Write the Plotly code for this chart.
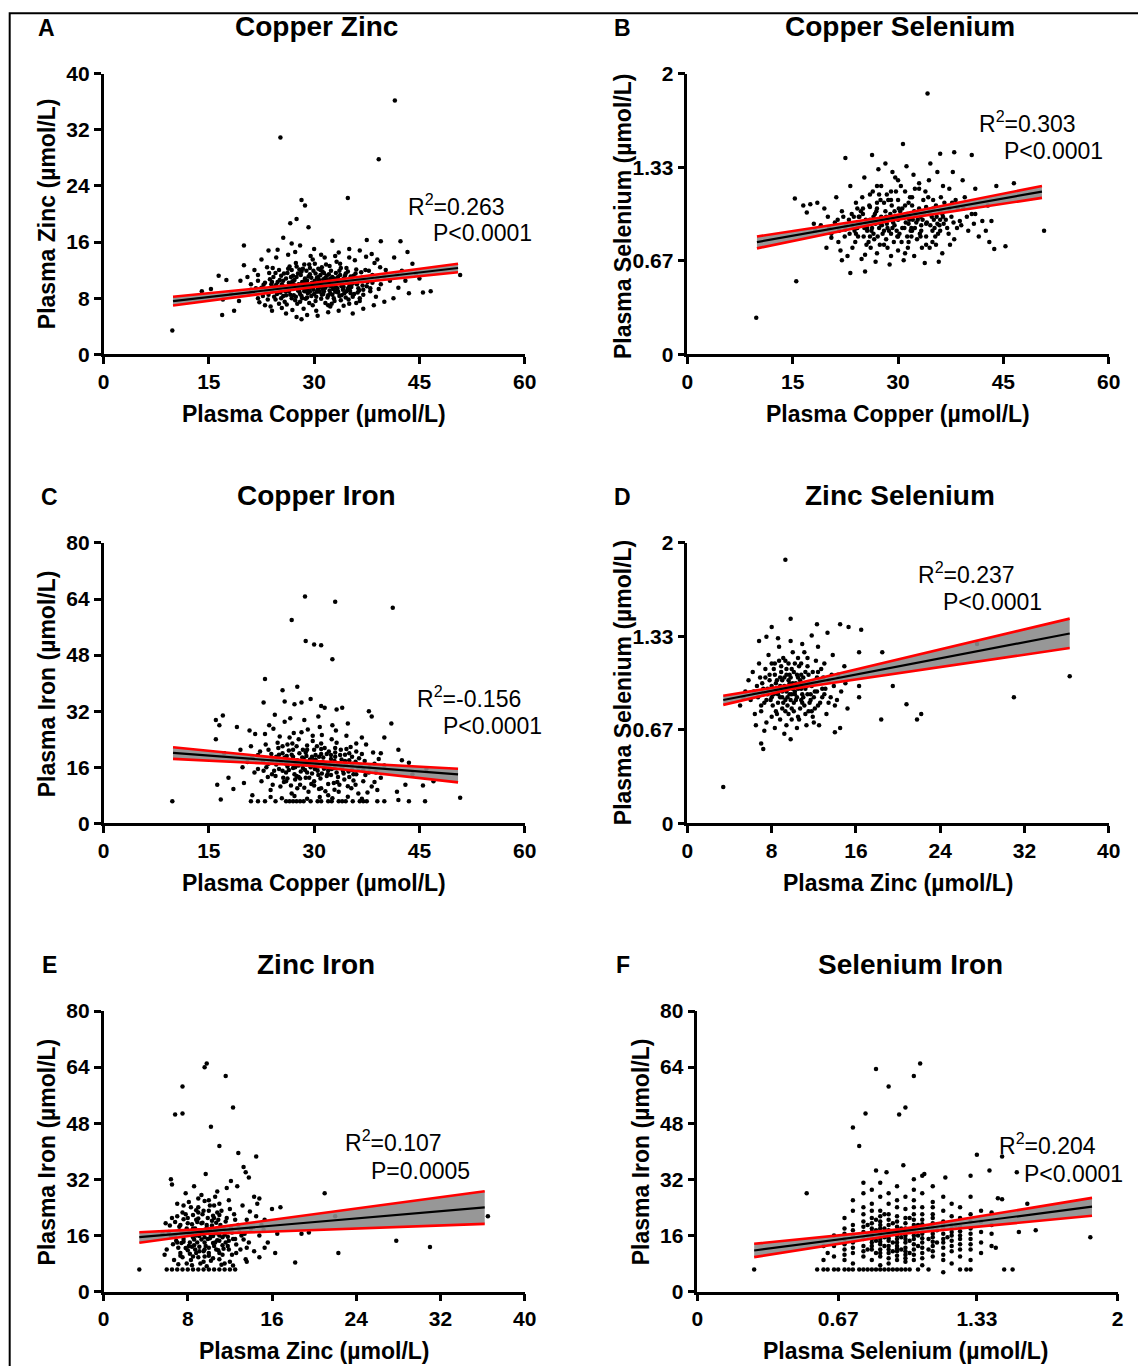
import plotly.graph_objects as go

W, H = 1138, 1366

# ---------------- DATA ----------------
# Panel A: Plasma Copper (x) vs Plasma Zinc (y)
a_pts = [(9.8,3.4),(25.2,30.9),(39.2,27.8),(41.5,36.2),(28.2,22.0),(28.7,21.2),(34.8,22.3),(27.5,19.3),(26.6,18.7),(29.2,18.1),(25.6,16.6),(20.0,15.5),(32.6,16.2),(37.5,16.3),(39.5,16.1),(42.3,16.1),(43.3,14.6),(41.4,13.8),(44.0,12.9),(45.5,8.8),(46.6,9.0),(41.3,8.0),(43.5,8.7),(50.8,11.3),(14.0,9.0),(16.4,11.2),(16.9,5.6),(18.6,6.2),(20.0,12.7),(15.3,9.3),(17.5,10.6),(18.2,8.7),(19.3,7.6),(17.0,7.8),(39.0,13.5),(40.2,12.0),(38.2,14.3),(36.5,14.8),(35.0,15.0),(33.5,14.5),(31.0,14.2),(30.0,15.0),(28.0,15.5),(26.8,15.8),(24.8,14.9),(23.5,14.8),(22.5,13.5),(21.5,12.0),(20.5,11.0),(19.5,10.5),(21.0,9.2),(22.0,8.0),(23.0,7.0),(24.0,6.2),(26.0,5.8),(27.5,5.3),(28.2,5.0),(29.0,5.6),(30.5,5.5),(32.0,6.0),(33.5,6.2),(35.5,5.8),(37.0,6.5),(38.5,7.0),(40.0,7.5),(42.0,9.5),(43.0,10.5),(44.5,11.5),(45.0,10.8),(39.5,10.0),(38.0,9.0),(36.5,8.0),(35.0,7.2),
 (22.5,9.5),(23.0,10.2),(23.5,8.5),(24.0,9.0),(24.2,11.0),(24.5,7.8),(24.8,10.3),(25.0,12.0),(25.2,8.8),(25.5,9.8),(25.8,7.5),(26.0,10.8),(26.2,9.2),(26.5,12.5),(26.8,8.0),(27.0,11.2),(27.2,9.6),(27.4,13.0),(27.6,7.2),(27.8,10.0),(28.0,8.6),(28.2,11.8),(28.4,9.4),(28.6,12.8),(28.8,7.9),(29.0,10.5),(29.2,9.0),(29.4,11.4),(29.6,8.3),(29.8,13.5),(30.0,9.8),(30.2,7.6),(30.4,10.9),(30.6,12.2),(30.8,8.9),(31.0,10.2),(31.2,9.3),(31.4,11.6),(31.6,7.3),(31.8,10.6),(32.0,8.4),(32.2,12.6),(32.4,9.7),(32.6,11.0),(32.8,8.0),(33.0,10.0),(33.2,13.2),(33.4,9.0),(33.6,11.9),(33.8,7.7),(34.0,10.4),(34.3,8.7),(34.6,12.3),(34.9,9.5),(35.2,11.1),(35.5,8.2),(35.8,13.4),(36.1,10.0),(36.4,9.1),(36.7,11.7),(37.0,8.5),(37.3,12.0),(37.6,10.3),(38.0,9.4),(38.3,11.3),(38.6,13.0),(39.0,10.8),(39.4,12.4),(40.0,11.1),(40.8,10.5),(41.8,11.4),(42.5,11.9),
 (21.0,10.0),(21.5,8.8),(22.0,11.3),(22.2,7.4),(23.3,12.4),(23.8,6.8),(24.6,13.8),(25.4,6.6),(26.3,14.2),(26.9,6.3),(27.3,14.6),(28.5,6.5),(29.5,14.0),(30.3,6.2),(31.5,13.8),(32.3,6.8),(33.0,14.0),(34.2,6.9),(35.0,13.8),(36.0,7.3),(37.4,13.9),(38.8,8.2),(22.8,9.9),(25.1,10.6),(26.7,9.9),(28.9,9.3),(30.9,11.3),(32.9,10.8),(34.7,10.2),(36.6,10.5),(24.3,8.2),(25.7,11.5),(27.1,8.4),(28.3,10.3),(29.3,7.3),(30.1,12.9),(31.3,8.6),(32.5,7.2),(33.7,12.9),(35.3,9.6),(36.9,9.8),(37.8,11.9),(26.1,7.1),(27.9,12.1),(29.9,11.9),(31.9,9.9),(33.9,8.4),(35.9,11.5),(23.6,11.6),(24.9,9.4),(26.4,10.2),(27.7,9.1),(29.1,8.7),(30.7,9.5),(32.1,11.4),(33.3,9.4),(34.5,11.5),(36.2,8.8),
 (23.1,9.1),(23.7,10.7),(24.4,9.6),(24.7,8.6),(25.3,11.2),(25.9,9.0),(26.2,11.6),(26.6,8.5),(26.9,10.4),(27.3,7.7),(27.5,11.0),(27.9,8.9),(28.1,9.9),(28.4,12.2),(28.7,10.8),(29.0,8.1),(29.2,11.1),(29.5,9.5),(29.7,10.2),(30.0,8.6),(30.2,11.5),(30.5,9.2),(30.7,10.6),(31.0,7.9),(31.1,12.4),(31.4,9.0),(31.6,10.9),(31.9,8.1),(32.1,10.3),(32.4,11.9),(32.7,9.3),(32.9,7.6),(33.2,10.6),(33.4,8.8),(33.7,11.3),(33.9,9.7),(34.2,10.8),(34.5,8.1),(34.8,11.8),(35.1,9.1),(35.4,10.5),(35.7,8.6),(36.0,12.1),(36.3,9.4),(22.7,8.3),(23.9,10.0),(25.6,8.3),(26.8,12.0),(27.0,9.3),(28.0,7.5),(28.6,9.0),(29.4,12.3),(30.3,8.2),(31.2,11.8),(32.2,9.1),(33.1,11.6),(34.1,9.2),(35.0,10.0),(24.1,12.3),(25.0,7.2),(26.0,9.6),(27.2,10.6),(28.2,8.3),(29.0,9.7),(29.8,7.0),(30.6,10.0),(31.5,10.4),(32.3,8.7),(33.5,10.2),(34.6,9.0),(35.6,11.2),(36.8,10.9),(37.5,9.7),(38.3,10.2),(26.5,9.5),(27.7,11.5),(28.9,10.1),(30.9,12.0),(32.0,7.0),(33.0,8.9),(34.9,7.8),(23.4,7.8),(24.5,11.6),(25.4,10.0),(22.0,10.5),(21.7,9.4),(20.8,8.6),(37.1,10.7),(36.5,7.6),(39.2,9.3),
 (24.6,9.9),(25.1,9.3),(25.6,10.5),(26.0,8.4),(26.4,9.0),(26.7,11.0),(27.1,10.0),(27.4,8.2),(27.8,9.6),(28.1,11.3),(28.3,8.0),(28.6,10.4),(28.9,11.9),(29.1,9.6),(29.4,8.9),(29.6,10.9),(29.9,9.2),(30.1,10.5),(30.4,8.9),(30.6,11.0),(30.9,9.9),(31.1,8.5),(31.3,10.7),(31.6,9.5),(31.8,11.2),(32.0,9.8),(32.3,10.8),(32.6,8.5),(32.8,9.9),(33.1,9.5),(33.4,11.0),(33.6,8.3),(33.9,10.3),(34.2,9.6),(34.4,11.2),(34.8,9.3),(35.2,8.7),(35.5,10.1),(25.3,8.0),(26.3,12.2),(27.5,12.5),(29.3,12.8),(31.7,12.8),(33.8,12.3),(24.0,10.3),(23.2,8.9),(36.3,10.8),(37.0,9.2)]
a_fit_x = [9.9, 30.0, 50.5]
a_fit_y = [7.57, 9.91, 12.3]
a_ci_lo = [6.95, 9.6, 11.7]
a_ci_hi = [8.2, 10.2, 12.9]

# Panel B: Plasma Copper (x) vs Plasma Selenium (y)
b_pts = [(9.8,0.26),(15.5,0.52),(34.2,1.86),(50.8,0.88),(45.3,0.77),(43.7,0.75),(30.7,1.50),(15.3,1.11),(16.5,1.06),(17.5,1.07),(23.2,0.58),(25.3,0.59),(22.0,0.67),(17.0,1.01),(26.3,1.42),(22.5,1.40),(40.5,1.42),(36.0,1.43),(38.0,1.44),(46.5,1.22),(43.3,0.95),(42.5,0.88),(41.0,1.0),(20.5,0.83),(18.0,0.93),
 (19.0,0.92),(20.0,0.98),(20.5,0.86),(21.0,0.94),(21.5,0.80),(22.0,1.02),(22.5,0.89),(23.0,0.96),(23.5,0.76),(24.0,1.08),(24.3,0.84),(24.6,0.93),(25.0,1.00),(25.3,0.71),(25.6,0.88),(26.0,1.14),(26.3,0.95),(26.6,0.82),(27.0,1.04),(27.3,0.90),(27.6,1.20),(28.0,0.78),(28.3,0.98),(28.6,1.10),(29.0,0.86),(29.3,0.94),(29.6,1.26),(30.0,0.74),(30.3,1.02),(30.6,0.90),(31.0,1.16),(31.3,0.84),(31.6,0.98),(32.0,1.06),(32.3,0.70),(32.6,0.94),(33.0,1.22),(33.3,0.88),(33.6,1.00),(34.0,0.78),(34.3,1.12),(34.6,0.92),(35.0,1.04),(35.3,0.84),(35.6,1.30),(36.0,0.96),(36.3,0.72),(36.6,1.08),(37.0,0.90),(37.3,1.18),(37.6,0.98),(38.0,0.82),(38.5,1.04),(39.0,0.92),(39.5,1.12),(40.0,0.88),(40.5,1.00),(41.0,1.18),(42.0,0.95),(44.0,1.20),
 (22.8,0.70),(24.8,0.68),(26.8,0.66),(28.8,0.64),(30.8,0.67),(33.8,0.65),(35.8,0.66),(21.2,1.12),(23.2,1.20),(25.2,1.26),(27.2,1.32),(28.2,1.36),(29.2,1.30),(31.2,1.34),(32.2,1.28),(34.6,1.36),(37.8,1.30),(39.2,1.24),(18.5,1.08),(19.5,1.04),(18.2,0.88),(19.8,0.76),(21.8,0.74),(41.5,0.84),(42.8,1.06),(43.0,0.80),
 (24.5,0.98),(25.5,0.93),(26.5,0.98),(27.5,0.93),(28.5,0.90),(29.5,1.02),(30.5,0.98),(31.5,0.93),(32.5,1.00),(33.5,0.96),(34.5,1.00),(35.5,0.98),(36.5,0.93),(26.2,0.88),(27.8,0.86),(29.8,0.88),(31.8,0.88),(33.2,0.84),(35.2,0.90),(37.2,0.86),(26.0,1.05),(28.0,1.08),(30.0,1.10),(32.0,1.12),(34.0,1.05),(36.0,1.02),(38.2,1.10),(23.8,0.88),(22.4,0.84),(25.8,0.80),(27.4,0.78),(29.4,0.80),(31.4,0.76),(33.4,0.76),(35.4,0.78),(37.4,0.78),(24.2,1.04),(26.4,1.16),(28.4,1.14),(30.4,1.20),(32.4,1.18),(34.4,1.24),(36.4,1.20),(27.0,0.72),(29.0,0.70),(31.0,0.72),(20.2,0.90),(21.4,0.96),(23.4,1.00),(38.8,0.95),(39.8,0.98),(40.8,0.93),
 (22.6,0.92),(23.1,0.86),(23.7,0.98),(24.2,0.90),(24.7,1.02),(25.1,0.84),(25.4,0.96),(25.9,1.06),(26.3,0.90),(26.7,1.00),(27.1,0.84),(27.5,1.10),(27.9,0.95),(28.2,1.02),(28.7,0.88),(29.1,1.06),(29.5,0.92),(29.9,0.98),(30.2,0.86),(30.6,1.04),(31.1,0.94),(31.5,1.08),(31.9,0.90),(32.3,1.02),(32.8,0.96),(33.1,0.86),(33.6,1.10),(34.1,0.94),(34.5,1.02),(34.9,0.88),(35.4,1.06),(35.9,0.92),(36.3,1.00),(36.8,0.96),(37.3,1.04),(37.9,0.94),(38.4,0.90),(23.9,0.80),(26.1,0.76),(28.3,0.82),(30.5,0.80),(32.7,0.82),(34.9,0.80),(24.9,1.12),(27.3,1.14),(29.7,1.16),(31.7,1.12),(33.9,1.16),(36.1,1.12),(25.6,0.90),(27.7,0.92),(29.3,0.96),(30.9,0.90),(32.1,0.96),(33.3,0.92),(35.1,0.96),(28.9,1.00),(30.1,1.04),(31.3,1.00),(26.9,1.02),(33.7,1.00),(24.3,0.94),(35.7,0.86),(22.2,0.98),(37.7,1.08),(39.3,1.04),(21.6,0.88),(26.5,0.86),(29.9,0.84),(31.9,0.84),
 (23.5,0.92),(24.4,0.98),(25.2,0.90),(26.0,0.96),(26.8,0.93),(27.6,0.98),(28.4,0.93),(29.2,0.90),(30.0,0.96),(30.8,0.98),(31.6,0.96),(32.4,0.90),(33.2,0.98),(34.0,0.93),(34.8,0.98),(35.6,0.93),(36.4,0.98),(25.0,1.04),(27.0,1.08),(29.0,1.10),(31.0,1.06),(33.0,1.04),(35.0,1.10),(24.0,0.86),(26.0,0.84),(28.0,0.88),(30.0,0.84),(32.0,0.88),(34.0,0.84),(36.0,0.88),(25.5,0.78),(28.5,0.76),(31.5,0.80),(34.5,0.76),(27.0,1.20),(30.0,1.24),(33.0,1.18),(29.0,1.16)]
b_fit_x = [9.9, 29.0, 50.5]
b_fit_y = [0.80, 0.969, 1.16]
b_ci_lo = [0.755, 0.952, 1.115]
b_ci_hi = [0.84, 0.986, 1.20]

# Panel C: Plasma Copper (x) vs Plasma Iron (y)
c_pts = [(9.8,6.3),(28.7,64.7),(33.0,63.2),(41.2,61.5),(26.8,58.0),(28.8,52.0),(30.0,51.0),(31.0,50.8),(32.6,46.8),(23.0,41.2),(27.6,39.0),(25.5,38.0),(29.5,35.5),(22.8,34.5),(25.8,34.8),(27.2,34.0),(28.2,34.5),(31.0,33.5),(31.5,33.0),(33.2,32.5),(34.0,33.0),(37.8,32.0),(38.2,30.5),(41.0,28.5),(16.0,29.5),(16.5,28.0),(17.0,30.8),(19.0,27.5),(16.0,24.0),(17.2,20.0),(16.2,11.0),(16.7,6.8),(17.8,13.0),(18.5,9.8),(20.0,11.5),(50.8,7.3),(45.8,6.3),(43.5,6.3),(42.0,6.7),(41.8,9.0),(43.0,11.0),(45.5,10.8),(47.0,12.0),(44.0,14.0),(42.5,18.0),(42.0,21.0),(40.0,24.5),(39.5,20.0),(43.5,17.3),(46.0,15.5),
 (21.0,6.3),(22.0,6.3),(23.0,6.3),(24.5,6.3),(26.0,6.3),(26.5,6.3),(27.0,6.3),(27.5,6.3),(28.0,6.3),(28.5,6.3),(29.5,6.3),(30.5,6.3),(31.0,6.3),(32.0,6.3),(32.5,6.3),(33.5,6.3),(34.0,6.3),(34.5,6.3),(35.5,6.3),(36.5,6.3),(37.0,6.3),(37.5,6.3),(39.0,6.3),(40.0,6.3),
 (20.5,17.5),(21.0,22.0),(21.5,14.5),(22.0,19.5),(22.5,12.0),(23.0,25.5),(23.2,16.0),(23.5,21.0),(23.8,9.5),(24.0,18.0),(24.2,27.0),(24.5,13.5),(24.8,23.0),(25.0,15.5),(25.2,10.5),(25.5,20.0),(25.8,29.0),(26.0,17.0),(26.2,12.8),(26.5,24.5),(26.8,8.5),(27.0,19.0),(27.2,14.0),(27.5,22.0),(27.8,16.5),(28.0,11.0),(28.2,26.0),(28.5,18.5),(28.8,13.0),(29.0,21.0),(29.2,9.0),(29.5,16.0),(29.8,23.5),(30.0,12.0),(30.2,19.5),(30.5,15.0),(30.8,27.5),(31.0,10.0),(31.2,17.5),(31.5,21.5),(31.8,13.5),(32.0,8.0),(32.2,16.5),(32.5,24.0),(32.8,11.5),(33.0,19.0),(33.2,14.5),(33.5,9.0),(33.8,21.0),(34.0,16.0),(34.3,12.5),(34.6,25.0),(35.0,18.0),(35.3,10.0),(35.6,14.0),(36.0,20.5),(36.3,8.5),(36.6,16.5),(37.0,12.0),(37.4,22.5),(37.8,14.5),(38.2,10.5),(38.6,17.0),(39.0,9.5),(39.5,13.0),(40.0,16.5),
 (22.3,20.5),(24.6,16.8),(26.4,20.8),(27.4,17.2),(28.4,15.8),(29.4,18.2),(30.4,17.0),(31.4,15.6),(32.4,18.4),(33.4,16.8),(34.4,19.6),(35.4,15.2),(36.4,18.6),(25.6,13.0),(27.6,10.0),(29.6,11.2),(31.6,9.2),(33.6,11.0),(35.6,12.2),(37.6,8.8),(24.4,31.0),(26.6,30.0),(28.6,29.5),(30.6,30.5),(32.6,28.0),(34.8,28.5),(36.8,24.5),(21.6,25.5),(23.6,28.0),(20.8,26.5),(19.8,16.0),(19.5,21.0),(21.2,8.0),(23.8,7.5),(25.4,7.2),(27.2,7.8),(29.0,7.0),(30.8,7.5),(32.6,7.2),(34.8,7.6),(36.8,7.0),(38.6,11.8),(38.4,20.2),(39.2,18.4),(22.8,15.0),(25.8,18.8),(28.8,20.2),(31.8,19.8),(34.2,14.2),(37.2,17.8),(26.2,22.5),(29.8,25.0),(33.2,23.0),(27.8,24.0),(30.6,13.8),(31.0,22.8),(35.2,21.8),
 (22.7,17.8),(23.4,13.2),(23.9,19.8),(24.3,15.0),(24.9,21.5),(25.3,17.5),(25.7,11.8),(26.1,19.2),(26.4,15.2),(26.9,22.8),(27.3,12.5),(27.6,18.0),(28.1,14.8),(28.4,21.0),(28.9,16.8),(29.3,13.0),(29.7,19.0),(30.1,15.5),(30.4,22.0),(30.9,12.8),(31.3,18.8),(31.7,16.0),(32.1,20.5),(32.4,13.8),(32.9,17.8),(33.3,11.8),(33.7,19.5),(34.1,15.0),(34.6,21.2),(35.0,13.2),(35.4,17.0),(35.9,11.0),(36.3,15.8),(36.8,19.8),(37.3,13.8),(37.9,16.0),(24.1,11.0),(26.7,10.8),(28.6,10.2),(30.7,9.8),(32.9,9.6),(34.8,10.6),(25.1,24.8),(27.1,25.8),(29.1,26.8),(31.1,25.2),(33.1,26.5),(23.1,22.5),(26.0,14.5),(27.9,20.0),(29.9,18.0),(31.9,14.0),(33.9,18.2),(35.9,17.6),(28.3,17.0),(30.3,16.2),(26.3,17.8),(32.5,15.5),(34.5,16.8),(27.0,15.8),(29.0,14.5),(31.0,19.8),(24.6,19.0),(22.0,15.5),(21.2,19.0),(38.8,14.5),(36.0,22.8),(25.5,22.0),(30.0,21.0),(33.0,21.5),(27.5,13.5),
 (24.0,14.0),(24.8,18.0),(25.5,15.0),(26.2,16.2),(26.8,19.6),(27.3,16.0),(27.8,13.2),(28.3,18.8),(28.7,15.2),(29.2,17.2),(29.7,14.2),(30.2,18.2),(30.6,16.2),(31.1,14.2),(31.5,17.0),(32.0,15.0),(32.4,19.5),(32.9,15.8),(33.4,13.2),(33.9,16.2),(34.4,17.8),(34.9,14.8),(35.4,19.0),(36.0,14.0),(28.0,12.8),(30.0,10.8),(32.0,11.2),(26.0,12.0),(25.0,19.6),(27.0,21.0),(29.0,22.2),(31.0,21.2),(33.0,20.2),(35.0,20.0),(23.5,17.0),(37.0,15.2),(30.7,19.0),(28.9,19.2)]
c_fit_x = [9.9, 29.0, 50.5]
c_fit_y = [20.1, 17.2, 14.0]
c_ci_lo = [18.4, 16.5, 11.7]
c_ci_hi = [21.7, 17.9, 15.6]

# Panel D: Plasma Zinc (x) vs Plasma Selenium (y)
d_pts = [(3.4,0.26),(9.3,1.88),(36.3,1.05),(31.0,0.90),(27.5,1.28),(22.2,0.78),(21.8,0.74),(20.8,0.85),(18.4,0.74),(19.5,0.98),(18.5,1.22),(16.3,1.22),(16.3,0.90),(16.3,0.98),(16.5,1.38),(15.3,1.40),(14.5,1.42),(12.3,1.42),(14.0,0.65),(14.5,0.68),(9.8,0.60),(7.2,0.53),(7.0,0.57),(9.8,1.46),(7.5,1.33),(8.0,1.40),
 (5.0,0.84),(5.5,0.94),(5.8,1.02),(6.0,0.88),(6.2,1.08),(6.4,0.78),(6.6,0.98),(6.8,1.14),(7.0,0.84),(7.2,0.92),(7.4,1.04),(7.5,0.72),(7.7,1.20),(7.9,0.88),(8.0,0.98),(8.2,1.10),(8.4,0.80),(8.5,0.94),(8.7,1.26),(8.8,0.74),(9.0,1.02),(9.1,0.86),(9.3,1.16),(9.4,0.70),(9.6,0.96),(9.7,1.06),(9.9,0.82),(10.0,1.22),(10.2,0.92),(10.3,1.00),(10.5,0.76),(10.6,1.12),(10.8,0.88),(11.0,1.04),(11.2,0.96),(11.4,1.18),(11.5,0.80),(11.7,0.92),(11.9,1.08),(12.0,0.72),(12.2,1.00),(12.4,1.26),(12.6,0.86),(12.8,0.96),(13.0,1.14),(13.2,0.78),(13.4,1.02),(13.6,0.90),(13.8,1.20),(14.0,0.84),(14.3,1.06),(14.6,0.94),(14.9,1.12),(15.2,0.82),(15.0,1.00),
 (6.5,0.70),(7.3,0.66),(8.3,0.68),(9.2,0.64),(10.4,0.68),(11.3,0.70),(12.5,0.70),(6.8,1.30),(8.6,1.32),(9.8,1.30),(10.9,1.28),(11.8,1.34),(13.3,1.36),(9.5,0.90),(9.0,0.94),(8.4,1.00),(10.6,0.98),(11.0,0.90),(9.8,1.04),(8.9,1.08),(10.1,0.86),(7.6,0.96),(12.1,0.94),(8.1,0.84),(9.3,0.80),(10.7,0.82),(11.6,0.86),(7.8,1.06),(9.6,1.14),(10.5,1.18),(8.7,1.16),(12.9,1.04),(11.1,1.22),(6.3,0.94),(5.3,0.90),(13.9,0.98),(14.2,0.88),(12.7,1.10),(7.1,1.00),(8.0,0.76),(9.9,0.74),(11.9,0.76),(8.8,0.90),(10.0,0.96),(9.2,0.98),(10.8,1.06),(9.4,1.10),(8.2,0.92),(11.5,1.00),(12.4,0.84),
 (7.2,0.96),(7.5,0.88),(7.8,1.02),(8.1,0.92),(8.3,1.06),(8.6,0.86),(8.8,0.98),(9.0,0.90),(9.2,1.04),(9.4,0.94),(9.5,0.84),(9.7,1.00),(9.9,0.92),(10.1,1.08),(10.3,0.88),(10.5,0.96),(10.7,1.02),(10.9,0.92),(11.1,0.84),(11.3,0.98),(11.5,1.06),(11.7,0.88),(11.9,1.00),(12.1,0.82),(12.3,0.94),(12.6,1.02),(12.8,0.90),(13.1,0.96),(8.0,1.14),(9.1,1.18),(10.2,1.14),(11.4,1.12),(8.5,0.78),(9.6,0.78),(10.6,0.74),(11.8,0.80),(7.0,0.80),(6.7,0.90),(13.4,0.86),(13.7,1.06),(9.3,0.96),(10.4,0.90),(8.9,1.12),(11.2,1.08),(12.2,1.16),(7.4,1.10),(6.9,1.04),(9.8,0.88),(10.0,1.00),(8.4,0.96),
 (8.0,0.90),(8.5,1.02),(8.9,0.96),(9.3,0.88),(9.6,1.02),(9.9,0.98),(10.2,0.94),(10.5,1.04),(10.8,0.96),(11.1,1.00),(11.4,0.92),(11.8,0.98),(12.3,1.04),(7.6,0.92),(8.8,1.04),(9.7,0.92),(10.9,0.86),(12.0,0.90),(9.0,0.82),(10.1,0.80),(11.2,0.78),(8.3,1.14),(9.9,1.10),(10.8,1.14),(12.4,1.08),(7.3,0.86),(13.0,0.92),(9.4,1.06),(10.4,1.06),(8.6,0.92)]
d_fit_x = [3.4, 10.0, 36.3]
d_fit_y = [0.88, 0.975, 1.354]
d_ci_lo = [0.845, 0.96, 1.25]
d_ci_hi = [0.91, 0.99, 1.46]

# Panel E: Plasma Zinc (x) vs Plasma Iron (y)
e_pts = [(3.4,6.3),(9.6,64.0),(9.8,65.0),(11.6,61.5),(7.5,58.5),(6.8,50.5),(7.5,50.8),(12.3,52.5),(10.2,47.0),(11.0,41.5),(12.8,39.5),(14.5,38.5),(13.3,35.5),(13.5,34.0),(13.8,32.5),(21.0,28.0),(22.0,21.5),(36.5,21.5),(27.8,14.5),(31.0,12.7),(22.3,11.0),(18.2,8.3),(16.3,11.0),(16.5,16.5),(18.8,16.5),(19.5,16.8),(16.0,23.5),(16.8,24.0),(14.8,26.5),(14.3,27.0),(15.3,20.5),(15.6,14.0),(14.8,9.8),(13.6,8.5),(6.4,32.0),(6.5,30.5),
 (6.0,6.3),(6.5,6.3),(7.0,6.3),(7.5,6.3),(8.0,6.3),(8.5,6.3),(9.0,6.3),(9.5,6.3),(10.0,6.3),(10.5,6.3),(11.0,6.3),(11.5,6.3),(12.0,6.3),(12.5,6.3),
 (6.0,12.0),(6.2,17.0),(6.5,21.0),(6.7,9.0),(6.9,14.5),(7.0,25.0),(7.2,18.5),(7.3,11.0),(7.5,22.5),(7.6,15.0),(7.8,28.0),(7.9,8.0),(8.0,19.5),(8.1,13.0),(8.3,24.0),(8.4,16.5),(8.5,10.0),(8.6,30.0),(8.8,20.5),(8.9,14.0),(9.0,26.5),(9.1,11.5),(9.2,17.5),(9.4,22.0),(9.5,8.5),(9.6,15.5),(9.7,33.5),(9.8,19.0),(10.0,12.5),(10.1,24.5),(10.2,16.0),(10.4,9.5),(10.5,21.0),(10.6,14.0),(10.8,28.5),(10.9,18.0),(11.0,11.0),(11.2,23.0),(11.3,15.5),(11.5,8.0),(11.6,20.0),(11.8,13.0),(11.9,26.0),(12.0,17.5),(12.2,10.5),(12.4,22.0),(12.5,15.0),(12.7,30.0),(12.8,19.0),(13.0,12.0),(13.2,24.5),(13.4,16.5),(13.6,20.5),(13.8,14.0),(14.0,18.0),(14.3,11.5),(14.5,21.5),(14.8,16.0),(15.0,19.0),(15.3,12.5),
 (7.4,13.8),(8.2,16.2),(8.7,18.0),(9.3,14.8),(9.9,17.2),(10.3,18.8),(10.7,16.6),(11.1,17.8),(8.0,11.8),(9.0,9.8),(10.0,10.2),(11.4,12.2),(12.6,13.4),(7.6,20.6),(8.8,23.2),(9.6,25.8),(10.6,27.0),(11.7,29.5),(12.1,31.5),(7.1,7.8),(8.4,7.5),(9.8,7.2),(11.2,7.6),(12.3,7.4),(6.4,15.8),(6.8,19.8),(5.8,10.5),(5.6,16.5),(5.9,19.5),(13.5,9.2),(13.9,22.8),(14.6,25.0),(15.2,17.6),(8.5,21.8),(9.4,19.6),(10.4,21.6),(12.9,17.0),(13.3,14.8),(7.7,17.0),(8.6,14.8),(10.8,14.6),(11.8,15.6),
 (6.8,16.0),(7.1,12.5),(7.3,19.0),(7.6,14.2),(7.8,22.0),(8.0,16.8),(8.2,10.8),(8.4,19.2),(8.6,13.2),(8.8,16.0),(9.0,20.8),(9.1,12.8),(9.3,17.0),(9.5,23.0),(9.6,14.0),(9.8,18.2),(10.0,11.0),(10.1,15.2),(10.3,20.2),(10.5,13.0),(10.6,17.6),(10.8,22.5),(11.0,14.5),(11.1,19.0),(11.3,10.5),(11.5,16.2),(11.7,21.0),(11.9,12.0),(12.1,18.5),(12.3,15.0),(7.5,9.8),(8.3,9.0),(9.2,8.0),(10.2,8.8),(11.0,9.2),(12.0,8.5),(7.0,21.5),(8.1,25.5),(9.0,24.0),(10.0,26.0),(11.0,25.0),(12.0,23.5),(8.7,12.0),(9.7,13.0),(10.7,12.0),(7.9,18.0),(9.4,16.5),(10.4,15.8),(11.4,18.2),(8.9,19.8),(12.5,20.5),(6.6,13.5),(6.3,18.8),(13.1,16.0),(13.6,12.5),(9.9,21.0),(8.5,15.5),(11.6,14.0),(10.9,20.5),(9.5,11.5),
 (7.0,14.0),(7.4,17.2),(7.8,12.4),(8.2,14.0),(8.5,18.0),(8.8,11.0),(9.1,15.8),(9.3,19.5),(9.6,12.0),(9.9,15.0),(10.1,17.8),(10.4,13.8),(10.7,19.6),(11.0,16.0),(11.3,13.2),(11.6,17.0),(11.9,14.5),(12.2,16.8),(8.0,21.0),(9.0,22.5),(10.0,23.0),(11.0,21.8),(7.6,24.5),(9.3,27.5),(10.5,24.5),(8.4,12.8),(9.6,10.0),(10.9,11.8),(7.3,10.2),(12.6,11.0)]
e_fit_x = [3.4, 9.5, 36.2]
e_fit_y = [15.5, 17.08, 24.0]
e_ci_lo = [13.9, 16.4, 19.3]
e_ci_hi = [16.9, 17.8, 28.6]

# Panel F: Plasma Selenium (x) vs Plasma Iron (y)
f_pts = [(0.27,6.3),(0.52,28.0),(0.85,63.5),(1.06,65.0),(1.03,61.5),(0.91,58.5),(0.80,50.8),(0.96,50.5),(0.99,52.5),(0.74,46.8),(0.77,41.5),(1.33,39.0),(1.45,38.5),(1.39,34.5),(1.52,34.0),(1.30,33.0),(0.85,34.5),(0.90,34.0),(0.98,36.0),(1.08,33.5),(1.07,33.0),(1.18,32.5),(1.61,17.5),(1.87,15.5),(1.45,26.3),(1.43,26.6),(1.57,25.0),(1.53,17.0),(1.42,12.5),(0.62,11.0),(1.17,5.5),
 (0.57,6.3),(0.60,6.3),(0.62,6.3),(0.65,6.3),(0.67,6.3),(0.70,6.3),(0.72,6.3),(0.74,6.3),(0.77,6.3),(0.79,6.3),(0.81,6.3),(0.83,6.3),(0.85,6.3),(0.87,6.3),(0.89,6.3),(0.91,6.3),(0.93,6.3),(0.95,6.3),(0.97,6.3),(0.99,6.3),(1.01,6.3),(1.05,6.3),(1.10,6.3),(1.25,6.3),(1.28,6.3),(1.30,6.3),(1.46,6.3),(1.50,6.3),
 (0.60,9.0),(0.60,13.0),(0.65,10.0),(0.65,13.0),(0.65,16.0),
 (0.70,9.0),(0.70,12.0),(0.70,15.0),(0.70,18.0),(0.70,21.0),
 (0.74,8.0),(0.74,11.0),(0.74,14.0),(0.74,16.0),(0.74,19.0),(0.74,23.0),(0.74,26.0),
 (0.79,10.0),(0.79,13.0),(0.79,15.0),(0.79,17.0),(0.79,20.0),(0.79,24.0),(0.79,28.0),(0.79,31.0),
 (0.83,9.0),(0.83,12.0),(0.83,14.0),(0.83,16.0),(0.83,18.0),(0.83,21.0),(0.83,25.0),(0.83,29.0),
 (0.87,7.5),(0.87,10.0),(0.87,12.0),(0.87,13.5),(0.87,15.0),(0.87,16.5),(0.87,18.0),(0.87,20.0),(0.87,23.0),(0.87,27.0),(0.87,31.0),
 (0.91,8.0),(0.91,11.0),(0.91,13.0),(0.91,14.5),(0.91,16.0),(0.91,17.5),(0.91,19.0),(0.91,22.0),(0.91,25.0),(0.91,28.0),
 (0.95,9.0),(0.95,11.5),(0.95,13.0),(0.95,15.0),(0.95,17.0),(0.95,18.5),(0.95,20.0),(0.95,24.0),(0.95,30.0),
 (0.99,8.5),(0.99,10.5),(0.99,12.5),(0.99,14.0),(0.99,16.0),(0.99,18.0),(0.99,21.0),(0.99,23.5),(0.99,27.0),
 (1.03,9.0),(1.03,12.0),(1.03,15.0),(1.03,17.0),(1.03,19.0),(1.03,22.0),(1.03,26.0),(1.03,29.0),(1.03,32.0),
 (1.07,7.5),(1.07,11.0),(1.07,14.0),(1.07,16.5),(1.07,18.0),(1.07,20.5),(1.07,24.0),(1.07,28.0),
 (1.12,10.0),(1.12,13.0),(1.12,15.5),(1.12,17.5),(1.12,19.5),(1.12,22.0),(1.12,25.5),(1.12,30.0),
 (1.17,9.0),(1.17,12.5),(1.17,15.0),(1.17,18.0),(1.17,20.0),(1.17,23.0),(1.17,27.0),
 (1.21,8.0),(1.21,11.5),(1.21,14.5),(1.21,17.0),(1.21,19.0),(1.21,21.5),(1.21,25.0),
 (1.25,10.0),(1.25,13.5),(1.25,16.0),(1.25,18.5),(1.25,21.0),(1.25,24.0),
 (1.30,9.0),(1.30,12.0),(1.30,15.0),(1.30,18.0),(1.30,22.0),(1.30,27.0),
 (1.35,11.0),(1.35,14.0),(1.35,17.0),(1.35,20.0),(1.35,23.0),
 (1.40,13.0),(1.40,16.5),(1.40,19.0),(1.40,22.5),
 (0.79,11.5),(0.79,18.5),(0.83,13.0),(0.83,15.0),(0.83,17.0),(0.83,19.5),(0.87,11.0),(0.87,14.2),(0.87,17.2),(0.87,19.0),(0.87,21.5),(0.91,9.5),(0.91,12.0),(0.91,15.2),(0.91,16.8),(0.91,20.5),(0.95,10.2),(0.95,12.2),(0.95,14.0),(0.95,16.0),(0.95,21.5),(0.99,9.5),(0.99,11.5),(0.99,15.0),(0.99,17.0),(0.99,19.5),(1.03,10.5),(1.03,13.5),(1.03,16.0),(1.03,18.0),(1.03,20.5),(1.07,9.5),(1.07,12.5),(1.07,15.2),(1.07,19.2),(1.07,22.0),(1.12,11.5),(1.12,14.2),(1.12,16.5),(1.12,18.5),(1.12,21.0),(1.17,10.5),(1.17,14.0),(1.17,16.5),(1.17,19.0),(1.21,13.0),(1.21,16.0),(1.21,18.0),(1.25,12.0),(1.25,15.0),(1.25,17.2),(1.30,13.5),(1.30,16.5),(1.30,20.0),(0.74,12.5),(0.74,17.5),(0.70,10.5),(0.70,13.5),(0.70,16.5),(0.79,22.0),(0.83,23.0),(0.95,26.0),(1.03,24.0),(1.12,24.0),
 (0.81,12.0),(0.81,16.0),(0.81,19.0),(0.85,11.0),(0.85,14.5),(0.85,17.5),(0.85,20.5),(0.89,13.0),(0.89,15.5),(0.89,18.0),(0.89,22.0),(0.93,11.5),(0.93,14.0),(0.93,17.0),(0.93,19.5),(0.97,12.0),(0.97,15.5),(0.97,18.0),(1.01,11.0),(1.01,14.5),(1.01,17.5),(1.01,21.0),(1.05,13.0),(1.05,16.0),(1.05,19.0),(1.10,12.0),(1.10,15.0),(1.10,18.0),(1.14,14.0),(1.14,17.5),(1.19,15.5),(1.23,19.0)]
f_fit_x = [0.27, 0.97, 1.878]
f_fit_y = [11.7, 17.14, 24.2]
f_ci_lo = [9.8, 16.4, 21.6]
f_ci_hi = [13.6, 17.8, 26.7]

# ---------------- LAYOUT ----------------
FONT = "Liberation Sans, Arial, Helvetica, sans-serif"

# pixel positions below are target positions in the final picture; the captured
# page is slightly shrunk and offset, so compensate here.
SX, OX = 0.986, 4.3
SY, OY = 0.985, 10.1

def px(x):
    return ((x - OX) / SX) / W

def py(y):
    return 1 - ((y - OY) / SY) / H

panels = [
    dict(letter="A", title="Copper Zinc", pts=a_pts, fx=a_fit_x, fy=a_fit_y, lo=a_ci_lo, hi=a_ci_hi,
         box=(102, 524, 72, 353), xr=[0, 60], xt=[0, 15, 30, 45, 60], xtt=None,
         yr=[0, 40], yt=[0, 8, 16, 24, 32, 40], ytt=None,
         xlab="Plasma Copper (µmol/L)", ylab="Plasma Zinc (µmol/L)",
         r2="R<sup>2</sup>=0.263", p="P<0.0001", rpos=(405, 203), ppos=(430, 232),
         lpos=(45, 26), tpos=(315, 25), ylpos=(45, 212), xlpos=(313, 413)),
    dict(letter="B", title="Copper Selenium", pts=b_pts, fx=b_fit_x, fy=b_fit_y, lo=b_ci_lo, hi=b_ci_hi,
         box=(687, 1109, 72, 353), xr=[0, 60], xt=[0, 15, 30, 45, 60], xtt=None,
         yr=[0, 2], yt=[0, 0.67, 1.33, 2], ytt=["0", "0.67", "1.33", "2"],
         xlab="Plasma Copper (µmol/L)", ylab="Plasma Selenium (µmol/L)",
         r2="R<sup>2</sup>=0.303", p="P<0.0001", rpos=(977, 120), ppos=(1002, 149),
         lpos=(622, 26), tpos=(900, 25), ylpos=(622, 215), xlpos=(898, 413)),
    dict(letter="C", title="Copper Iron", pts=c_pts, fx=c_fit_x, fy=c_fit_y, lo=c_ci_lo, hi=c_ci_hi,
         box=(102, 524, 542, 823), xr=[0, 60], xt=[0, 15, 30, 45, 60], xtt=None,
         yr=[0, 80], yt=[0, 16, 32, 48, 64, 80], ytt=None,
         xlab="Plasma Copper (µmol/L)", ylab="Plasma Iron (µmol/L)",
         r2="R<sup>2</sup>=-0.156", p="P<0.0001", rpos=(414, 696), ppos=(440, 725),
         lpos=(48, 496), tpos=(315, 495), ylpos=(45, 683), xlpos=(313, 883)),
    dict(letter="D", title="Zinc Selenium", pts=d_pts, fx=d_fit_x, fy=d_fit_y, lo=d_ci_lo, hi=d_ci_hi,
         box=(687, 1109, 542, 823), xr=[0, 40], xt=[0, 8, 16, 24, 32, 40], xtt=None,
         yr=[0, 2], yt=[0, 0.67, 1.33, 2], ytt=["0", "0.67", "1.33", "2"],
         xlab="Plasma Zinc (µmol/L)", ylab="Plasma Selenium (µmol/L)",
         r2="R<sup>2</sup>=0.237", p="P<0.0001", rpos=(916, 572), ppos=(941, 601),
         lpos=(622, 496), tpos=(900, 495), ylpos=(622, 682), xlpos=(898, 883)),
    dict(letter="E", title="Zinc Iron", pts=e_pts, fx=e_fit_x, fy=e_fit_y, lo=e_ci_lo, hi=e_ci_hi,
         box=(102, 524, 1011, 1292), xr=[0, 40], xt=[0, 8, 16, 24, 32, 40], xtt=None,
         yr=[0, 80], yt=[0, 16, 32, 48, 64, 80], ytt=None,
         xlab="Plasma Zinc (µmol/L)", ylab="Plasma Iron (µmol/L)",
         r2="R<sup>2</sup>=0.107", p="P=0.0005", rpos=(342, 1141), ppos=(368, 1171),
         lpos=(48, 965), tpos=(315, 964), ylpos=(45, 1152), xlpos=(313, 1352)),
    dict(letter="F", title="Selenium Iron", pts=f_pts, fx=f_fit_x, fy=f_fit_y, lo=f_ci_lo, hi=f_ci_hi,
         box=(697, 1118, 1011, 1292), xr=[0, 2], xt=[0, 0.67, 1.33, 2], xtt=["0", "0.67", "1.33", "2"],
         yr=[0, 80], yt=[0, 16, 32, 48, 64, 80], ytt=None,
         xlab="Plasma Selenium (µmol/L)", ylab="Plasma Iron (µmol/L)",
         r2="R<sup>2</sup>=0.204", p="P<0.0001", rpos=(997, 1144), ppos=(1022, 1174),
         lpos=(622, 965), tpos=(910, 964), ylpos=(640, 1152), xlpos=(906, 1352)),
]

fig = go.Figure()
layout = dict(
    width=W, height=H, margin=dict(l=0, r=0, t=0, b=0),
    paper_bgcolor="white", plot_bgcolor="white", showlegend=False,
    font=dict(family=FONT, color="black"),
)
annotations = []

for i, p in enumerate(panels, start=1):
    xa = "x" if i == 1 else f"x{i}"
    ya = "y" if i == 1 else f"y{i}"
    x0, x1, y0, y1 = p["box"]
    axis_common = dict(
        showline=True, linecolor="black", linewidth=2.5, mirror=False,
        ticks="outside", ticklen=7, tickwidth=2.5, tickcolor="black",
        showgrid=False, zeroline=False,
        tickfont=dict(family=FONT, size=21, color="black", weight="bold"),
    )
    xdict = dict(axis_common, domain=[px(x0), px(x1)], range=p["xr"], tickvals=p["xt"],
                 anchor=ya)
    if p["xtt"]:
        xdict["ticktext"] = p["xtt"]
    ydict = dict(axis_common, domain=[py(y1), py(y0)], range=p["yr"], tickvals=p["yt"],
                 anchor=xa)
    if p["ytt"]:
        ydict["ticktext"] = p["ytt"]
    layout["xaxis" if i == 1 else f"xaxis{i}"] = xdict
    layout["yaxis" if i == 1 else f"yaxis{i}"] = ydict

    xs = [q[0] for q in p["pts"]]
    ys = [q[1] for q in p["pts"]]
    fig.add_trace(go.Scatter(x=xs, y=ys, mode="markers", xaxis=xa, yaxis=ya,
                             marker=dict(color="black", size=4.5, line=dict(width=0)),
                             hoverinfo="skip"))
    fig.add_trace(go.Scatter(x=p["fx"], y=p["lo"], mode="lines", xaxis=xa, yaxis=ya,
                             line=dict(color="red", width=2.6), hoverinfo="skip"))
    fig.add_trace(go.Scatter(x=p["fx"], y=p["hi"], mode="lines", xaxis=xa, yaxis=ya,
                             line=dict(color="red", width=2.6), fill="tonexty",
                             fillcolor="rgba(140,140,140,0.9)", hoverinfo="skip"))
    fig.add_trace(go.Scatter(x=p["fx"], y=p["fy"], mode="lines", xaxis=xa, yaxis=ya,
                             line=dict(color="black", width=2.2), hoverinfo="skip"))

    annotations.append(dict(text=f"<b>{p['letter']}</b>", x=px(p["lpos"][0]), y=py(p["lpos"][1]),
                            xref="paper", yref="paper", showarrow=False, xanchor="center", yanchor="middle",
                            font=dict(family=FONT, size=23, color="black")))
    annotations.append(dict(text=f"<b>{p['title']}</b>", x=px(p["tpos"][0]), y=py(p["tpos"][1]),
                            xref="paper", yref="paper", showarrow=False, xanchor="center", yanchor="middle",
                            font=dict(family=FONT, size=28, color="black")))
    annotations.append(dict(text=f"<b>{p['xlab']}</b>", x=px(p["xlpos"][0]), y=py(p["xlpos"][1]),
                            xref="paper", yref="paper", showarrow=False, xanchor="center", yanchor="middle",
                            font=dict(family=FONT, size=23, color="black")))
    annotations.append(dict(text=f"<b>{p['ylab']}</b>", x=px(p["ylpos"][0]), y=py(p["ylpos"][1]),
                            xref="paper", yref="paper", showarrow=False, xanchor="center", yanchor="middle",
                            textangle=-90, font=dict(family=FONT, size=23, color="black")))
    annotations.append(dict(text=p["r2"], x=px(p["rpos"][0]), y=py(p["rpos"][1]),
                            xref="paper", yref="paper", showarrow=False, xanchor="left", yanchor="middle",
                            font=dict(family=FONT, size=23, color="black")))
    annotations.append(dict(text=p["p"], x=px(p["ppos"][0]), y=py(p["ppos"][1]),
                            xref="paper", yref="paper", showarrow=False, xanchor="left", yanchor="middle",
                            font=dict(family=FONT, size=23, color="black")))

layout["annotations"] = annotations
layout["shapes"] = [dict(type="rect", xref="paper", yref="paper",
                         x0=px(8), x1=1.02, y0=-0.02, y1=1 - 1.2 / H,
                         line=dict(color="black", width=2), fillcolor="rgba(0,0,0,0)", layer="above")]
fig.update_layout(**layout)
fig.write_html("out.html")
